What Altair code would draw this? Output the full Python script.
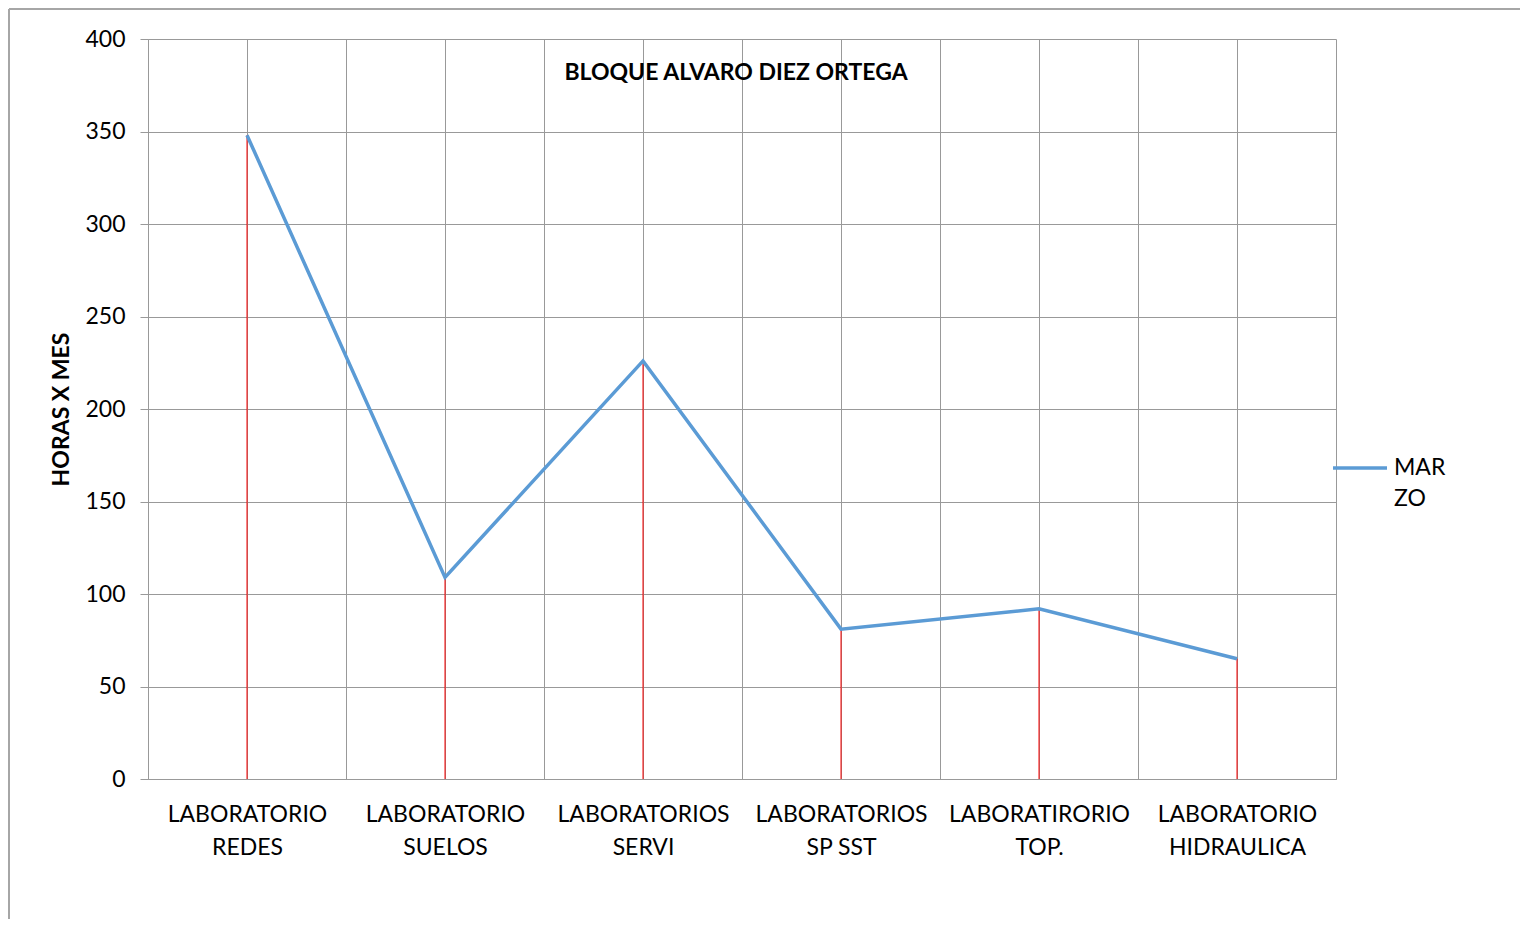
import json
import altair as alt
import pandas as pd

chart_title = "BLOQUE ALVARO DIEZ ORTEGA"
categories = [
    "LABORATORIO REDES",
    "LABORATORIO SUELOS",
    "LABORATORIOS SERVI",
    "LABORATORIOS SP SST",
    "LABORATIRORIO TOP.",
    "LABORATORIO HIDRAULICA",
]
horas = [348, 109, 226, 81, 92, 65]
series_name = "MARZO"
y_ticks = [0, 50, 100, 150, 200, 250, 300, 350, 400]

df = pd.DataFrame({
    "cat": categories,
    "pos": [i + 0.5 for i in range(len(categories))],
    "horas": horas,
    "serie": [series_name] * len(categories),
})
title_df = pd.DataFrame({"t": [chart_title]})

label_lines = [c.split(" ", 1) for c in categories]
label_expr = (
    "datum.value % 1 == 0.5 ? " + json.dumps(label_lines) + "[floor(datum.value)] : ''"
)

FONT = "Lato"
GRID = "#999999"
n = len(categories)

x_enc = alt.X(
    "pos:Q",
    scale=alt.Scale(domain=[0, n], nice=False, zero=False),
    axis=alt.Axis(
        values=[i * 0.5 for i in range(2 * n + 1)],
        labelExpr=label_expr,
        grid=True,
        gridColor=GRID,
        gridWidth=1,
        ticks=False,
        domainColor=GRID,
        labelFontSize=23,
        labelColor="black",
        labelPadding=24,
        labelLineHeight=33,
        labelLimit=400,
        labelOverlap=False,
        labelFlush=False,
        title=None,
    ),
)
y_enc = alt.Y(
    "horas:Q",
    scale=alt.Scale(domain=[0, 400], nice=False),
    axis=alt.Axis(
        values=y_ticks,
        grid=True,
        gridColor=GRID,
        gridWidth=1,
        tickSize=8,
        tickColor=GRID,
        domainColor=GRID,
        labelFontSize=23,
        labelColor="black",
        labelPadding=15,
        title="HORAS X MES",
        titleFontSize=23,
        titleFontWeight="bold",
        titleColor="black",
        titlePadding=11,
    ),
)

base = alt.Chart(df)

drops = base.mark_rule(color="#FF0000", strokeWidth=1).encode(
    x=x_enc, y=y_enc, y2=alt.datum(0)
)

line = base.mark_line(strokeWidth=3.5).encode(
    x="pos:Q",
    y="horas:Q",
    color=alt.Color(
        "serie:N",
        scale=alt.Scale(range=["#5B9BD5"]),
        legend=alt.Legend(
            title=None,
            orient="none",
            legendX=1183,
            legendY=407,
            symbolType="M-1,-0.26H1",
            symbolSize=2916,
            symbolStrokeWidth=3.5,
            labelFontSize=23,
            labelColor="black",
            labelOffset=5,
            labelBaseline="alphabetic",
            labelExpr="[slice(datum.label, 0, 3), slice(datum.label, 3)]",
            padding=0,
        ),
    ),
)

title_text = alt.Chart(title_df).mark_text(
    fontSize=23, fontWeight="bold", color="black", align="center", baseline="alphabetic"
).encode(text="t:N", x=alt.value(588), y=alt.value(41))

frame_top = alt.Chart(title_df).mark_rule(color="#A6A6A6", strokeWidth=2).encode(
    x=alt.value(-139), x2=alt.value(1420), y=alt.value(-30)
)
frame_left = alt.Chart(title_df).mark_rule(color="#A6A6A6", strokeWidth=2).encode(
    x=alt.value(-139), y=alt.value(-30), y2=alt.value(960)
)

chart = (
    alt.layer(frame_top, frame_left, drops, line, title_text)
    .properties(
        width=1188,
        height=740,
        autosize=alt.AutoSizeParams(type="none"),
        padding={"left": 140, "top": 31, "right": 184, "bottom": 140},
    )
    .configure(font=FONT, style={"guide-label": {"lineHeight": 31}})
    .configure_view(stroke=None)
)

chart.save("out.html", embed_options={"renderer": "svg", "actions": False})
